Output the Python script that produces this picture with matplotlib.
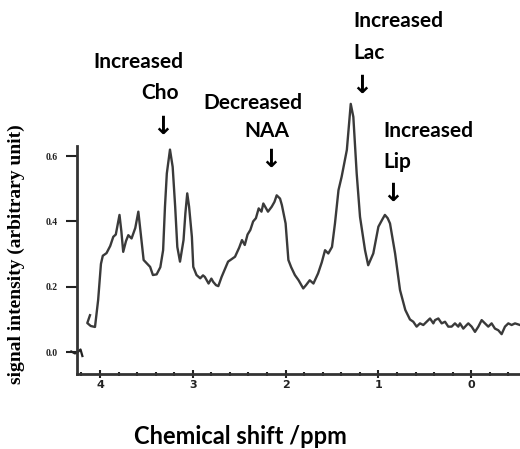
import matplotlib
matplotlib.use("Agg")
import matplotlib.pyplot as plt
from matplotlib.ticker import MultipleLocator

# spectrum (chemical shift in ppm, signal intensity)
ppm = [4.108, 4.137, 4.10, 4.054, 4.02, 3.99, 3.97, 3.93, 3.89, 3.857, 3.83, 3.79, 3.77, 3.75,
       3.72, 3.695, 3.66, 3.62, 3.587, 3.56, 3.53, 3.49, 3.46, 3.43, 3.39, 3.35, 3.32, 3.30,
       3.28, 3.246, 3.217, 3.19, 3.167, 3.138, 3.10, 3.08, 3.06, 3.04, 3.01, 2.995, 2.96,
       2.92, 2.89, 2.87, 2.83, 2.80, 2.78, 2.75, 2.725, 2.69, 2.62, 2.58, 2.545, 2.50, 2.47,
       2.44, 2.41, 2.38, 2.35, 2.32, 2.29, 2.26, 2.24, 2.19, 2.15, 2.12, 2.096, 2.06, 2.04,
       2.0, 1.97, 1.94, 1.90, 1.86, 1.81, 1.78, 1.74, 1.70, 1.65, 1.61, 1.575, 1.54, 1.50,
       1.468, 1.43, 1.396, 1.34, 1.298, 1.27, 1.234, 1.198, 1.144, 1.11, 1.055, 1.0, 0.96,
       0.93, 0.90, 0.875, 0.82, 0.767, 0.71, 0.66,
       0.624, 0.588, 0.552, 0.516, 0.480, 0.444, 0.408, 0.390, 0.354, 0.318, 0.282, 0.247,
       0.211, 0.175, 0.139, 0.121, 0.085, 0.049, 0.031, -0.005, -0.041, -0.077, -0.113,
       -0.149, -0.184, -0.220, -0.256, -0.292, -0.328, -0.364, -0.400, -0.436, -0.472, -0.526]
signal = [0.113, 0.089, 0.080, 0.077, 0.16, 0.27, 0.295, 0.303, 0.325, 0.353, 0.36, 0.42, 0.37, 0.307,
          0.34, 0.358, 0.348, 0.38, 0.43, 0.36, 0.282, 0.27, 0.261, 0.236, 0.238, 0.26, 0.312, 0.445,
          0.547, 0.62, 0.567, 0.445, 0.322, 0.277, 0.343, 0.425, 0.486, 0.445, 0.353, 0.261, 0.236,
          0.226, 0.235, 0.23, 0.21, 0.225, 0.215, 0.205, 0.202, 0.23, 0.277, 0.285, 0.292, 0.32, 0.343,
          0.328, 0.36, 0.374, 0.40, 0.41, 0.44, 0.43, 0.455, 0.43, 0.445, 0.46, 0.48, 0.47, 0.45,
          0.394, 0.282, 0.26, 0.236, 0.22, 0.195, 0.205, 0.22, 0.21, 0.241, 0.275, 0.312, 0.302, 0.322,
          0.394, 0.496, 0.537, 0.619, 0.76, 0.72, 0.547, 0.414, 0.312, 0.266, 0.302, 0.384, 0.405,
          0.42, 0.41, 0.394, 0.302, 0.19, 0.129, 0.10,
          0.093, 0.078, 0.088, 0.083, 0.093, 0.103, 0.088, 0.098, 0.103, 0.088, 0.093, 0.078,
          0.078, 0.088, 0.078, 0.088, 0.072, 0.083, 0.088, 0.078, 0.062, 0.078, 0.098,
          0.088, 0.078, 0.088, 0.072, 0.067, 0.055, 0.078, 0.088, 0.083, 0.088, 0.083]

# little squiggle at the zero line
ppm0 = [4.31, 4.27, 4.24, 4.21, 4.19]
signal0 = [0.002, -0.004, 0.0, 0.008, -0.012]

yticks = [0.0, 0.2, 0.4, 0.6]
xticks = [0, 1, 2, 3, 4]

W, H = 520, 449
fig = plt.figure(figsize=(W / 100, H / 100), dpi=100)
ax = fig.add_axes([77 / W, 75 / H, 443 / W, 374 / H])

line_col = "#3a3a3a"
ax.plot(ppm, signal, color=line_col, lw=1.7)
ax.plot(ppm0, signal0, color="#222222", lw=1.6, clip_on=False)

ax.set_xlim(4.248, -0.526)
ax.set_ylim(-0.067, 1.078)

for s in ["top", "right"]:
    ax.spines[s].set_visible(False)
ax.spines["left"].set_bounds(-0.067, 0.63)
ax.spines["left"].set_linewidth(2)
ax.spines["bottom"].set_linewidth(2)
ax.spines["left"].set_color("#333333")
ax.spines["bottom"].set_color("#333333")

ax.set_yticks(yticks)
ax.set_yticklabels(["%.1f" % v for v in yticks], family="Liberation Serif",
                   fontweight="bold", fontsize=7)
ax.tick_params(axis="y", direction="out", length=8, width=1.5, pad=6, colors="#222222")

ax.set_xticks(xticks)
ax.set_xticklabels([str(v) for v in xticks], fontweight="bold", fontsize=8)
ax.xaxis.set_minor_locator(MultipleLocator(0.2))
ax.tick_params(axis="x", which="major", direction="inout", length=6, width=1.5, pad=1,
               colors="#222222")
ax.tick_params(axis="x", which="minor", direction="inout", length=3.5, width=1.5,
               colors="#222222")

fig.text(16 / W, 1 - 254 / H, "signal intensity (arbitrary unit)", rotation=90,
         ha="center", va="center", family="Liberation Serif", fontweight="bold", fontsize=14)
fig.text(240 / W, 1 - 437 / H, "Chemical shift /ppm", ha="center", va="center",
         family="Lato", fontweight="bold", fontsize=17)

lab = dict(family="Lato", fontweight="bold", fontsize=15, va="center")
arr = dict(family="DejaVu Sans", fontweight="bold", fontsize=18, ha="center", va="center")

fig.text(138 / W, 1 - 62 / H, "Increased", ha="center", **lab)
fig.text(160 / W, 1 - 93 / H, "Cho", ha="center", **lab)
fig.text(163 / W, 1 - 127 / H, "\u2193", **arr)

fig.text(253 / W, 1 - 103 / H, "Decreased", ha="center", **lab)
fig.text(267 / W, 1 - 131 / H, "NAA", ha="center", **lab)
fig.text(271 / W, 1 - 160 / H, "\u2193", **arr)

fig.text(398 / W, 1 - 21 / H, "Increased", ha="center", **lab)
fig.text(353 / W, 1 - 53 / H, "Lac", ha="left", **lab)
fig.text(362 / W, 1 - 86 / H, "\u2193", **arr)

fig.text(428 / W, 1 - 131 / H, "Increased", ha="center", **lab)
fig.text(383 / W, 1 - 162 / H, "Lip", ha="left", **lab)
fig.text(393 / W, 1 - 194 / H, "\u2193", **arr)

fig.savefig("out.png", dpi=100)
